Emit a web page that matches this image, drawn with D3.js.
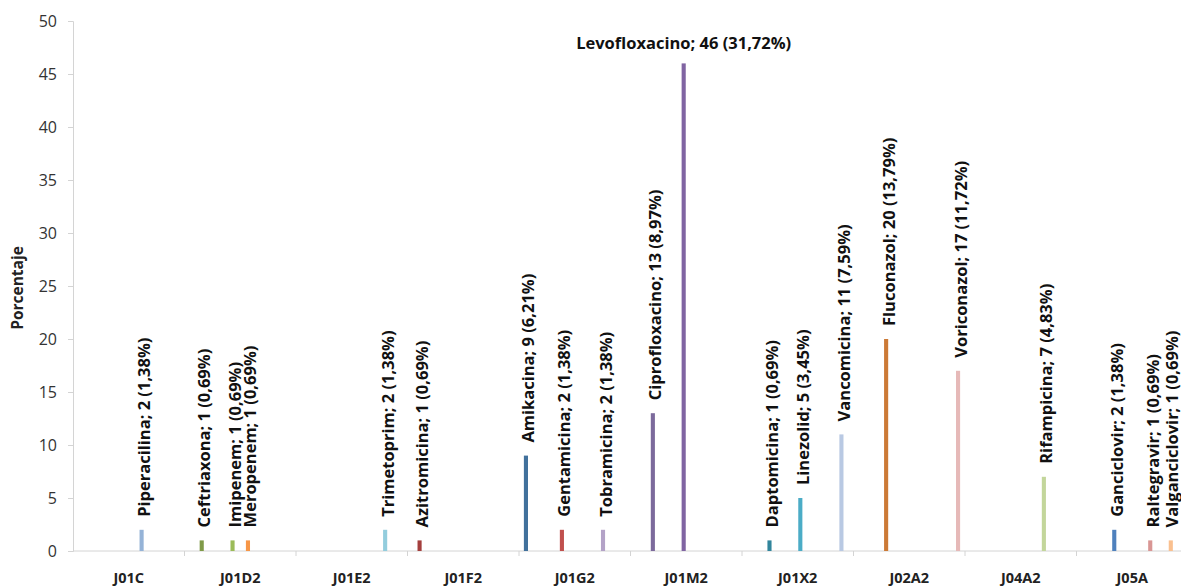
<!DOCTYPE html>
<html>
<head>
<meta charset="utf-8">
<script src="https://cdn.jsdelivr.net/npm/d3@7"></script>
<style>
  body { margin: 0; background: #fff; }
  text { font-family: "Open Sans", "DejaVu Sans", sans-serif; }
</style>
</head>
<body>
<script>
// categories (ATC groups) on the x axis
const categories = ["J01C", "J01D2", "J01E2", "J01F2", "J01G2", "J01M2", "J01X2", "J02A2", "J04A2", "J05A"];
// one series per drug, alphabetical like the original sheet
const drugs = ["Amikacina", "Azitromicina", "Ceftriaxona", "Ciprofloxacino", "Daptomicina",
    "Fluconazol", "Ganciclovir", "Gentamicina", "Imipenem", "Levofloxacino",
    "Linezolid", "Meropenem", "Piperacilina", "Raltegravir", "Rifampicina",
    "Tobramicina", "Trimetoprim", "Valganciclovir", "Vancomicina", "Voriconazol"];
const drugGroup = ["J01G2", "J01F2", "J01D2", "J01M2", "J01X2",
    "J02A2", "J05A", "J01G2", "J01D2", "J01M2",
    "J01X2", "J01D2", "J01C", "J05A", "J04A2",
    "J01G2", "J01E2", "J05A", "J01X2", "J02A2"];
const counts = [9, 1, 1, 13, 1, 20, 2, 2, 1, 46, 5, 1, 2, 1, 7, 2, 2, 1, 11, 17];
const pcts = ["6,21%", "0,69%", "0,69%", "8,97%", "0,69%", "13,79%", "1,38%", "1,38%", "0,69%", "31,72%",
    "3,45%", "0,69%", "1,38%", "0,69%", "4,83%", "1,38%", "1,38%", "0,69%", "7,59%", "11,72%"];
const colors = ["#41719c", "#a43f3d", "#7f9a48", "#7c6a9c", "#31859c",
    "#cc7a36", "#4f81bd", "#c0504d", "#9bbb59", "#8064a2",
    "#4bacc6", "#f79646", "#95b3d7", "#d99694", "#c3d69b",
    "#b3a2c7", "#93cddd", "#fac08f", "#b9c9e3", "#e6b9b8"];
const yTicks = [0, 5, 10, 15, 20, 25, 30, 35, 40, 45, 50];

const width = 1181, height = 587;
const margin = {top: 21, left: 73, bottom: 36};

const svg = d3.select("body").append("svg")
    .attr("width", width)
    .attr("height", height);

const x = d3.scaleBand()
    .domain(categories)
    .range([margin.left, margin.left + 111.5 * categories.length]);

const xSub = d3.scaleBand()
    .domain(drugs)
    .range([0, x.bandwidth()])
    .paddingInner(0.2)
    .paddingOuter(0.95);

const y = d3.scaleLinear()
    .domain([0, 50])
    .range([height - margin.bottom, margin.top]);

// y axis
const yAxis = svg.append("g")
    .attr("transform", "translate(" + margin.left + ",0)")
    .call(d3.axisLeft(y).tickValues(yTicks).tickSize(5).tickPadding(11));
yAxis.select(".domain").attr("stroke", "#d4d4d4");
yAxis.selectAll(".tick line").attr("stroke", "#d4d4d4");
yAxis.selectAll(".tick text")
    .attr("fill", "#333")
    .style("font-size", "16px");

// x axis line + category separators
const x0 = y(0);
svg.append("line")
    .attr("x1", margin.left).attr("x2", width)
    .attr("y1", x0).attr("y2", x0)
    .attr("stroke", "#d4d4d4");
svg.append("g").selectAll("line")
    .data(categories.slice(1))
    .enter().append("line")
    .attr("x1", d => x(d)).attr("x2", d => x(d))
    .attr("y1", x0).attr("y2", x0 + 5)
    .attr("stroke", "#d4d4d4");
svg.append("g").selectAll("text")
    .data(categories)
    .enter().append("text")
    .attr("x", d => x(d) + x.bandwidth() / 2)
    .attr("y", x0 + 32)
    .attr("text-anchor", "middle")
    .attr("fill", "#222")
    .style("font-size", "14.5px")
    .style("font-weight", 700)
    .text(d => d);

svg.append("text")
    .attr("transform", "translate(23," + 288 + ") rotate(-90)")
    .attr("text-anchor", "middle")
    .attr("fill", "#222")
    .style("font-size", "15.5px")
    .style("font-weight", 700)
    .text("Porcentaje");

// bars
const rows = drugs.map((d, i) => ({
    name: d, group: drugGroup[i], value: counts[i], pct: pcts[i], color: colors[i]
}));
const cx = d => x(d.group) + xSub(d.name) + xSub.bandwidth() / 2;

svg.append("g").selectAll("rect")
    .data(rows)
    .enter().append("rect")
    .attr("x", d => x(d.group) + xSub(d.name))
    .attr("y", d => y(d.value))
    .attr("width", xSub.bandwidth())
    .attr("height", d => y(0) - y(d.value))
    .attr("fill", d => d.color);

// data labels: vertical above the bar, horizontal for the tallest one
const labels = svg.append("g").selectAll("text")
    .data(rows)
    .enter().append("text")
    .attr("fill", "#111")
    .style("font-size", "16.5px")
    .style("font-weight", 700)
    .text(d => d.name + "; " + d.value + " (" + d.pct + ")");
labels.filter(d => d.value < 40)
    .attr("transform", d => "translate(" + Math.min(cx(d) + 2, width - 10) + "," + (y(d.value) - 13) + ") rotate(-90)")
    .attr("dominant-baseline", "central");
labels.filter(d => d.value >= 40)
    .attr("x", cx)
    .attr("y", d => y(d.value) - 14)
    .attr("text-anchor", "middle");
</script>
</body>
</html>
